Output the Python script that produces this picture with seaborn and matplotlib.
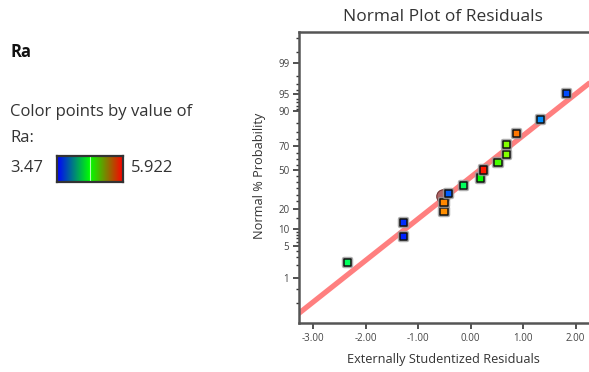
import numpy as np
import pandas as pd
import matplotlib
matplotlib.use("Agg")
import matplotlib.pyplot as plt
import matplotlib.patheffects as pe
from matplotlib.colors import LinearSegmentedColormap, ListedColormap, Normalize
import seaborn as sns
from statistics import NormalDist

# ---------------- data ----------------
residuals = [-2.35, -1.28, -1.28, -0.51, -0.51, -0.42, -0.14, 0.18, 0.24,
             0.52, 0.68, 0.68, 0.87, 1.33, 1.83]
probability = [2.32, 7.52, 13.0, 18.75, 24.4, 30.6, 37.3, 43.4, 50.3,
               56.9, 63.8, 71.4, 78.6, 86.7, 95.25]
ra_values = [4.45, 3.52, 3.55, 5.56, 5.58, 3.67, 4.45, 4.70, 5.85,
             4.85, 5.00, 5.00, 5.62, 3.78, 3.62]

flag_resid = [-0.53]
flag_prob = [28.6]

line_resid = [-3.30, 2.32]
line_prob = [0.0895, 97.41]

ra_min, ra_max = 3.47, 5.922
xtick_vals = [-3, -2, -1, 0, 1, 2]
xtick_labels = ["-3.00", "-2.00", "-1.00", "0.00", "1.00", "2.00"]
ytick_vals = [1, 5, 10, 20, 50, 70, 90, 95, 99]
ytick_labels = ["1", "5", "10", "20", "50", "70", "90", "95", "99"]
yminor_vals = [0.2, 0.5, 2, 3, 4, 6, 7, 8, 9, 15, 25, 30, 35, 40, 45, 55, 60,
               65, 75, 80, 85, 91, 92, 93, 94, 96, 97, 98, 99.5, 99.8]

# ---------------- style ----------------
sns.set_theme(style="white")
plt.rcParams["font.family"] = ["Open Sans", "DejaVu Sans"]

W, H = 589, 372
fig = plt.figure(figsize=(W / 100, H / 100), dpi=100)


def fx(px):
    return px / W


def fy(py):
    return 1 - py / H


# probability (probit) scale
_nd = NormalDist()
_ppf = np.vectorize(_nd.inv_cdf, otypes=[float])
_cdf = np.vectorize(_nd.cdf, otypes=[float])


def fwd(p):
    p = np.clip(np.asarray(p, dtype=float) / 100.0, 1e-12, 1 - 1e-12)
    return _ppf(p)


def inv(z):
    return _cdf(np.asarray(z, dtype=float)) * 100.0


ax = fig.add_axes([fx(299), fy(323), fx(592 - 299), (323 - 32) / H])
ax.set_yscale("function", functions=(fwd, inv))

# point colour ramp: hue from blue to red
pt_cmap = ListedColormap(plt.cm.hsv(np.linspace(0.6667, 0.0, 256)))
bar_cmap = LinearSegmentedColormap.from_list("ra", ["#0000ff", "#00ff00", "#ff0000"])
norm = Normalize(ra_min, ra_max)

df = pd.DataFrame({"resid": residuals, "prob": probability, "Ra": ra_values})

sns.lineplot(x=line_resid, y=line_prob, color="#ff7f7f", linewidth=3.8,
             ax=ax, zorder=2, solid_capstyle="butt")

ax.scatter(flag_resid, flag_prob, s=95, marker="o", color="#a04a4a",
           edgecolor="#602020", linewidth=0.8, alpha=0.85, zorder=3)

sns.scatterplot(data=df, x="resid", y="prob", hue="Ra", palette=pt_cmap,
                hue_norm=norm, marker="s", s=26, edgecolor="#111111",
                linewidth=1.1, legend=False, ax=ax, zorder=4)
ax.collections[-1].set_path_effects(
    [pe.withStroke(linewidth=3.2, foreground="#9a9a9a", alpha=0.8)])

ax.set_xlim(-3.2725, 2.311)
ax.set_ylim(inv(-3.31), inv(3.0))

ax.set_xticks(xtick_vals)
ax.set_xticklabels(xtick_labels)
ax.set_yticks(ytick_vals)
ax.set_yticklabels(ytick_labels)
ax.set_yticks(yminor_vals, minor=True)
ax.set_yticklabels([], minor=True)

ax.tick_params(axis="both", which="major", direction="out", length=4,
               width=1.2, color="#333333", labelsize=7, labelcolor="#444444",
               left=True, bottom=True, pad=3)
ax.tick_params(axis="y", which="minor", direction="out", length=2.5,
               width=1.0, color="#333333", left=True)

for s in ["left", "bottom", "top"]:
    ax.spines[s].set_color("#555555")
    ax.spines[s].set_linewidth(1.8)
ax.spines["right"].set_visible(False)

ax.set_xlabel("")
ax.set_ylabel("")
fig.text(fx(443), fy(360), "Externally Studentized Residuals", ha="center",
         va="center", fontsize=9.2, color="#333333")
fig.text(fx(259), fy(176), "Normal % Probability", ha="center", va="center",
         rotation=90, fontsize=9.2, color="#333333")
fig.text(fx(443), fy(17), "Normal Plot of Residuals", ha="center",
         va="center", fontsize=12.5, color="#333333")

# left panel text
fig.text(fx(10), fy(52), "Ra", ha="left", va="center", fontsize=12,
         fontweight="bold", color="#111111")
fig.text(fx(10), fy(112), "Color points by value of", ha="left", va="center",
         fontsize=12, color="#333333")
fig.text(fx(10), fy(138), "Ra:", ha="left", va="center", fontsize=12,
         color="#333333")
fig.text(fx(10), fy(168), f"{ra_min:g}", ha="left", va="center", fontsize=12,
         color="#333333")
fig.text(fx(131), fy(168), f"{ra_max:g}", ha="left", va="center", fontsize=12,
         color="#333333")

cax = fig.add_axes([fx(57), fy(182), fx(66), 26 / H])
grad = np.linspace(ra_min, ra_max, 256)[None, :]
cax.imshow(grad, aspect="auto", cmap=bar_cmap, norm=norm,
           extent=[ra_min, ra_max, 0, 1])
cax.axvline((ra_min + ra_max) / 2, color="#b0ffb0", linewidth=0.8)
cax.set_xticks([])
cax.set_yticks([])
for s in cax.spines.values():
    s.set_color("#333333")
    s.set_linewidth(1.6)

fig.savefig("out.png", dpi=100)
